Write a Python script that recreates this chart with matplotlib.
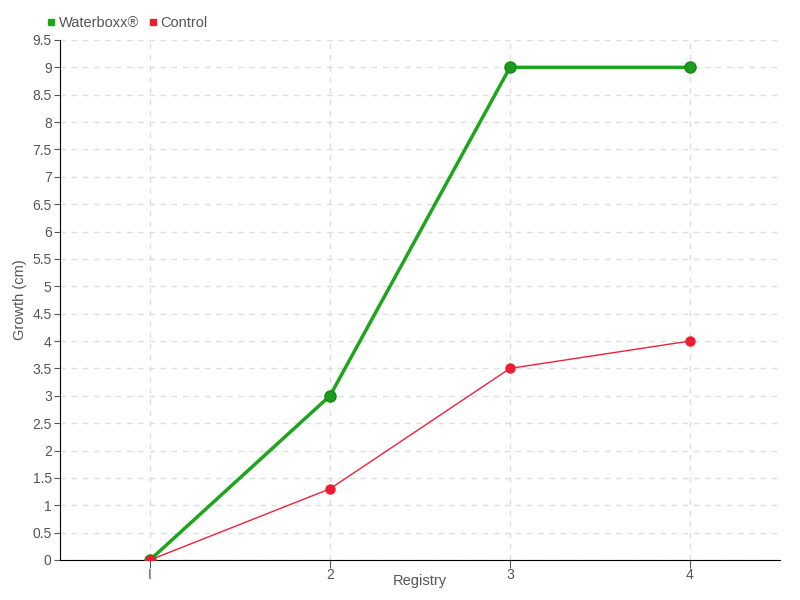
import matplotlib
matplotlib.use("Agg")
import matplotlib.pyplot as plt
from matplotlib.lines import Line2D
import numpy as np

registry = [1, 2, 3, 4]
waterboxx = [0, 3, 9, 9]
control = [0, 1.3, 3.5, 4]

plt.rcParams["font.family"] = ["Liberation Sans", "DejaVu Sans"]

fig = plt.figure(figsize=(8, 6), dpi=100)
ax = fig.add_axes([0.075, 0.0667, 0.9, 0.8667])

ax.plot(registry, waterboxx, color="#1ea51e", lw=2.5, marker="o", ms=8,
        markerfacecolor="#1e9a1e", markeredgecolor="#168a16", zorder=3)
ax.plot(registry, control, color="#f0203a", lw=1, marker="o", ms=6.5,
        markerfacecolor="#ee1c30", markeredgecolor="#ee1c30", zorder=4)

ax.set_xlim(0.5, 4.5)
ax.set_ylim(0, 9.5)
ax.set_xticks(registry)
ax.set_xticklabels(["I", "2", "3", "4"])
ax.set_yticks(np.arange(0, 9.51, 0.5))
ax.set_yticklabels([("%g" % v) for v in np.arange(0, 9.51, 0.5)])

ax.grid(True, color="#dddddd", ls=(0, (4, 4)), lw=1)
ax.set_axisbelow(True)
for s in ["top", "right"]:
    ax.spines[s].set_visible(False)
ax.spines["left"].set_color("black")
ax.spines["bottom"].set_color("black")
ax.tick_params(axis="both", colors="#555555", labelsize=10, length=4, pad=2)
ax.tick_params(axis="x", color="#555555", length=6, pad=0)

ax.set_xlabel("Registry", color="#555555", fontsize=10.5)
ax.set_ylabel("Growth (cm)", color="#555555", fontsize=10.5)
ax.xaxis.set_label_coords(0.5, -0.026)
ax.yaxis.set_label_coords(-0.046, 0.5)

handles = [
    Line2D([], [], ls="none", marker="s", ms=5, color="#1ea51e"),
    Line2D([], [], ls="none", marker="s", ms=5, color="#ee1c30"),
]
leg = fig.legend(handles, ["Waterboxx®", "Control"], loc="center left",
                 bbox_to_anchor=(0.055, 0.962), ncol=2, frameon=False,
                 fontsize=10.5, handletextpad=0.0, columnspacing=0.5,
                 handlelength=1.0, borderpad=0, borderaxespad=0)
for t in leg.get_texts():
    t.set_color("#555555")

fig.savefig("out.png")
